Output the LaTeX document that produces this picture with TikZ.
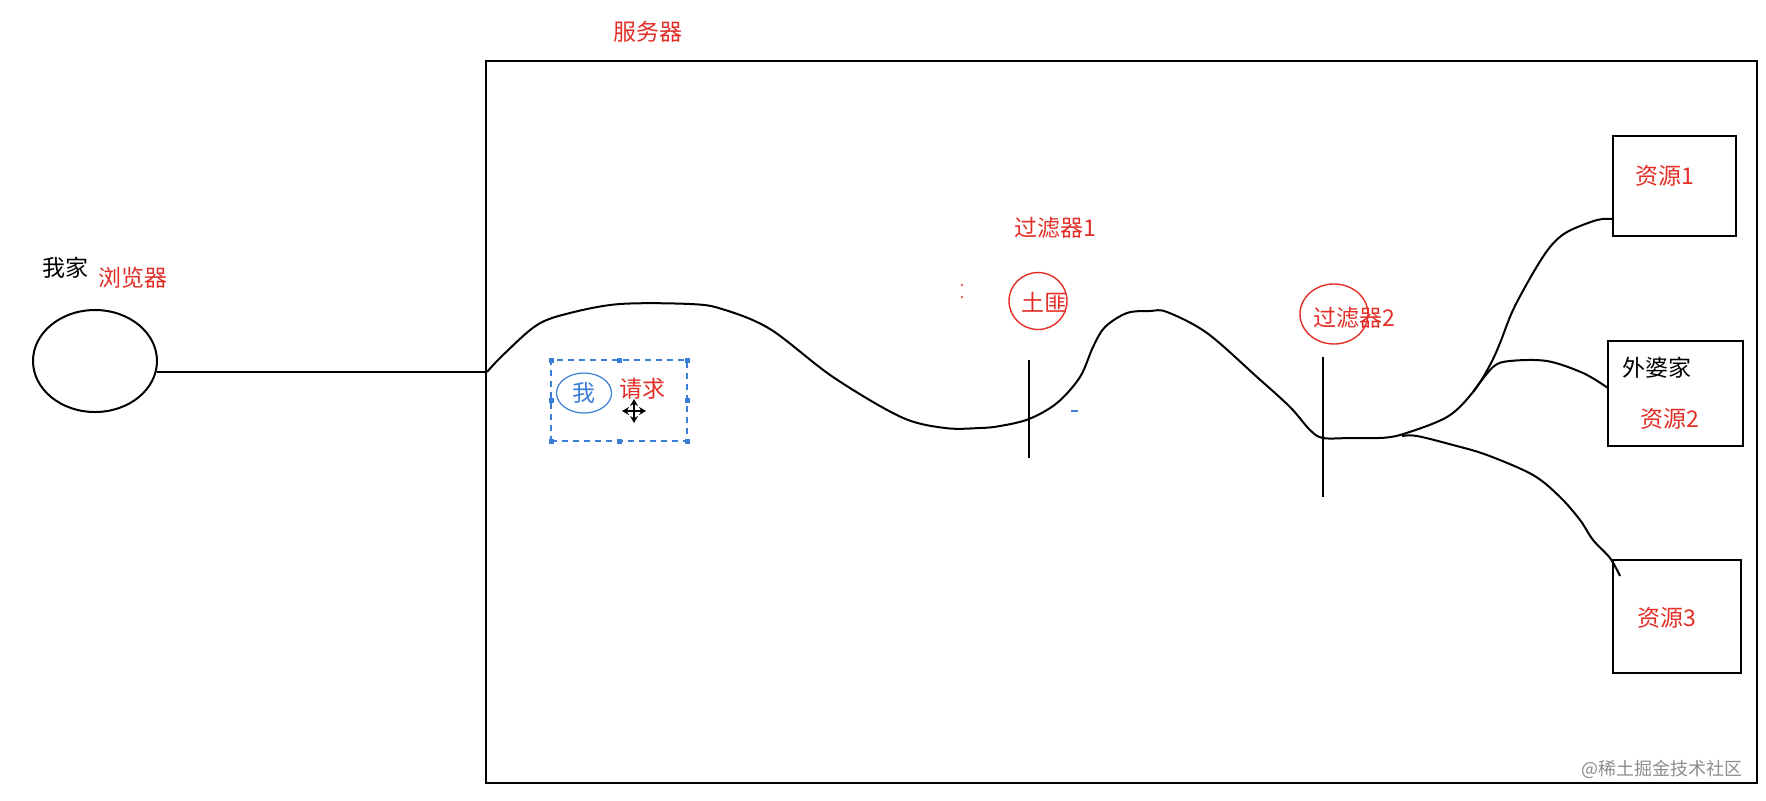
\documentclass[tikz,border=0pt]{standalone}
\usepackage{fontspec}
\setmainfont{Noto Sans CJK SC}
\usetikzlibrary{shapes.geometric,fit,arrows.meta}
\definecolor{inkred}{RGB}{226,46,38}
\definecolor{inkblue}{RGB}{58,126,214}

\begin{document}
\begin{tikzpicture}[x=0.5pt,y=-0.5pt,line width=1pt]
    % `redtext' and `blacktext' are the hand-typed labels.
    % `filterring' is used for the red circles of the filters.
    % `resbox' is used for the server and the resource boxes.
    \tikzstyle{redtext} = [text=inkred,font=\fontsize{11.5pt}{14pt}\selectfont,inner sep=0pt]
    \tikzstyle{blacktext} = [text=black,font=\fontsize{11.5pt}{14pt}\selectfont,inner sep=0pt]
    \tikzstyle{filterring} = [draw=inkred,line width=0.7pt,ellipse,inner sep=0pt]
    \tikzstyle{resbox} = [draw,inner sep=0pt]
    \tikzstyle{handle} = [fill=inkblue,inner sep=0pt,minimum size=2.5pt]
    \tikzstyle{wire} = [line width=1pt,line join=round]
    %
    \useasboundingbox (0,0) rectangle (1766,800);
    % Browser at home.
    \node[draw,ellipse,minimum width=62pt,minimum height=51pt,inner sep=0pt] (browser) at (95,361) {};
    \node[blacktext] (home) at (65,268) {我家};
    \node[redtext] (browserlbl) at (133,278) {浏览器};
    % Server box.
    \coordinate (srvNW) at (486,61);
    \coordinate (srvSE) at (1757,783);
    \node[resbox,fit=(srvNW)(srvSE)] (server) {};
    \node[redtext] (serverlbl) at (648,32) {服务器};
    % Resource boxes.
    \coordinate (r1NW) at (1613,136); \coordinate (r1SE) at (1736,236);
    \coordinate (r2NW) at (1608,341); \coordinate (r2SE) at (1743,446);
    \coordinate (r3NW) at (1613,560); \coordinate (r3SE) at (1741,673);
    \node[resbox,fit=(r1NW)(r1SE)] (res1) {};
    \node[resbox,fit=(r2NW)(r2SE)] (res2) {};
    \node[resbox,fit=(r3NW)(r3SE)] (res3) {};
    \node[redtext] (res1lbl) at (1665,176) {资源1};
    \node[blacktext] (granny) at (1657,368) {外婆家};
    \node[redtext] (res2lbl) at (1670,419) {资源2};
    \node[redtext] (res3lbl) at (1667,618) {资源3};
    % The request, selected with its handles.
    \coordinate (reqNW) at (551,360);
    \coordinate (reqSE) at (687,441);
    \node[draw=inkblue,line width=0.6pt,dash pattern=on 3pt off 2.5pt,inner sep=0pt,fit=(reqNW)(reqSE)] (request) {};
    \foreach \p [count=\i] in {(551,360),(619,360),(687,360),(551,400),(687,400),(551,441),(619,441),(687,441)}
      \node[handle] (h\i) at \p {};
    \node[draw=inkblue,line width=0.6pt,ellipse,minimum width=27.5pt,minimum height=20pt,inner sep=0pt] (me) at (584,393) {};
    \node[text=inkblue,font=\fontsize{11.5pt}{14pt}\selectfont,inner sep=0pt] at (me) {我};
    \node[redtext] (reqlbl) at (642,389) {请求};
    \coordinate (cursor) at (634,411);
    \draw[line width=1.3pt,{Stealth[length=3.5pt,width=4pt]}-{Stealth[length=3.5pt,width=4pt]}]
      ([xshift=-6pt]cursor) -- ([xshift=6pt]cursor);
    \draw[line width=1.3pt,{Stealth[length=3.5pt,width=4pt]}-{Stealth[length=3.5pt,width=4pt]}]
      ([yshift=-6pt]cursor) -- ([yshift=6pt]cursor);
    % Filter 1 with the bandit.
    \node[redtext] (f1lbl) at (1055,228) {过滤器1};
    \node[filterring,minimum width=29pt,minimum height=28.5pt] (bandit) at (1038,301) {};
    \node[redtext] (banditlbl) at (1044,302) {土匪};
    \coordinate (f1top) at (1029,360);
    \coordinate (f1bot) at (1029,458);
    \coordinate (f1x) at (1029,419);
    % Filter 2.
    \node[filterring,minimum width=34pt,minimum height=30pt] (f2ring) at (1334,314) {};
    \node[redtext] (f2lbl) at (1354,318) {过滤器2};
    \coordinate (f2top) at (1323,357);
    \coordinate (f2bot) at (1323,497);
    \coordinate (f2x) at (1323,438);
    % Stray marks.
    \fill[inkred] (962,285) circle (0.6pt) (962,297) circle (0.6pt);
    \draw[inkblue,line width=0.8pt] (1071,411) -- (1078,411);
    % Draw lines.
    \coordinate (entry) at (487,372);
    \coordinate (fork) at (1377,438);
    \coordinate (split2) at (1473,392);
    \coordinate (split3) at (1402,436);
    \coordinate (r1in) at (1613,219);
    \coordinate (r2in) at (1608,388);
    \draw[wire] (browser.-10) -- (browser.-10 -| entry);
    \draw[wire] (f1top) -- (f1bot)  (f2top) -- (f2bot);
    \draw[wire] plot[smooth,tension=0.55] coordinates {(entry) (503,355) (537,325) (570,313) (620,304)
      (690,304) (722,309) (770,329) (833,377) (901,417) (945,428) (980,428) (1000,426) (f1x)
      (1057,403) (1080,377) (1093,347) (1105,327) (1127,313) (1150,311) (1167,312) (1207,333)
      (1257,377) (1290,407) (1310,430) (f2x) (1350,438) (fork)};
    \draw[wire] plot[smooth,tension=0.55] coordinates {(fork) (1400,435) (1447,417) (split2) (1490,365)
      (1500,343) (1513,310) (1533,273) (1550,247) (1567,232) (1597,220) (r1in)};
    \draw[wire] plot[smooth,tension=0.55] coordinates {(split2) (1493,367) (1510,361) (1547,361)
      (1583,373) (r2in)};
    \draw[wire] plot[smooth,tension=0.55] coordinates {(split3) (1417,436) (1453,445) (1487,455)
      (1533,475) (1560,497) (1580,520) (1593,540) (1610,558) (1620,576)};
    % Watermark.
    \node[text=black!45,font=\fontsize{9pt}{11pt}\selectfont,inner sep=0pt] (mark) at (1662,769) {@稀土掘金技术社区};
\end{tikzpicture}
\end{document}
